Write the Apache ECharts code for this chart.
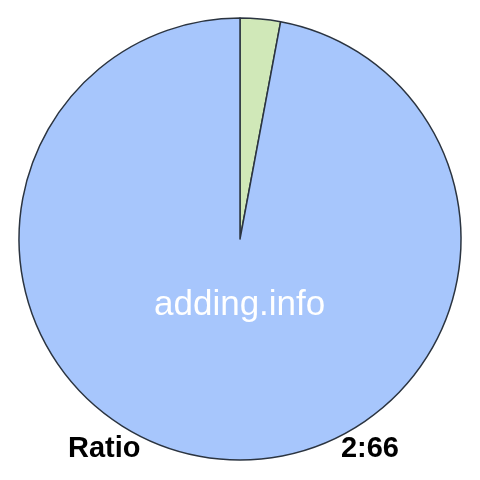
<!DOCTYPE html>
<html>
<head>
<meta charset="utf-8">
<script src="https://cdn.jsdelivr.net/npm/echarts@6/dist/echarts.min.js"></script>
<style>
  html, body { margin: 0; padding: 0; background: #fff; }
  #chart { width: 480px; height: 480px; }
</style>
</head>
<body>
<div id="chart"></div>
<script>
// slice names and values
var names = ['part', 'rest'];
var values = [2, 66];
var colors = ['#d0e8b8', '#a7c6fc'];

var chart = echarts.init(document.getElementById('chart'), null, { renderer: 'canvas' });

var option = {
  backgroundColor: '#ffffff',
  animation: false,
  graphic: [
    {
      type: 'text', left: 154, top: 288, z: 100,
      style: { text: 'adding.info', fill: '#ffffff', font: '35px "Liberation Sans", Arial, sans-serif' }
    },
    {
      type: 'text', left: 68, top: 434, z: 100,
      style: { text: 'Ratio', fill: '#000000', font: 'bold 29px "Liberation Sans", Arial, sans-serif' }
    },
    {
      type: 'text', right: 81, top: 434, z: 100,
      style: { text: values[0] + ':' + values[1], fill: '#000000', font: 'bold 29px "Liberation Sans", Arial, sans-serif' }
    }
  ],
  series: [{
    type: 'pie',
    center: [240, 239],
    radius: [0, 221],
    startAngle: 90,
    clockwise: true,
    label: { show: false },
    labelLine: { show: false },
    emphasis: { disabled: true },
    itemStyle: { borderColor: '#2b3440', borderWidth: 1.5 },
    data: names.map(function (n, i) {
      return { name: n, value: values[i], itemStyle: { color: colors[i] } };
    })
  }]
};

chart.setOption(option);
</script>
</body>
</html>
